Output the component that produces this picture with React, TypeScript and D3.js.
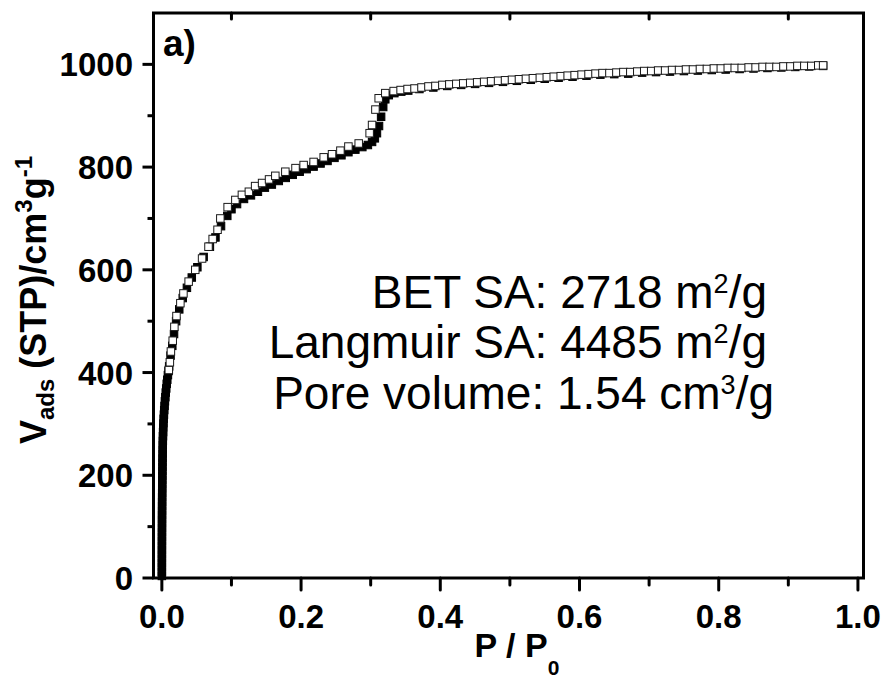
import React from 'react';
import * as d3 from 'd3';

// Adsorption branch (filled squares): relative pressure and volume
const adsP = [
  0.00001, 0.00002, 0.00003, 0.00004, 0.00005, 0.00007, 0.00008, 0.0001, 0.00012, 0.00014,
  0.00016, 0.00019, 0.00022, 0.00025, 0.00028, 0.00032, 0.00036, 0.0004, 0.00045, 0.0005,
  0.00055, 0.0006, 0.00066, 0.00072, 0.00078, 0.00085, 0.00092, 0.001, 0.0011, 0.0012,
  0.0013, 0.0014, 0.0016, 0.0018, 0.002, 0.0023, 0.0026, 0.003, 0.0034, 0.0039,
  0.0044, 0.005, 0.0056, 0.0063, 0.007, 0.0078, 0.0087, 0.0096,
  0.0105, 0.0125, 0.015, 0.0175, 0.0205, 0.025, 0.03, 0.036, 0.043, 0.051,
  0.06, 0.069, 0.077, 0.085, 0.094, 0.1, 0.108, 0.118, 0.128, 0.138,
  0.148, 0.158, 0.168, 0.178, 0.188, 0.198, 0.208, 0.218, 0.228, 0.238,
  0.248, 0.258, 0.268, 0.278, 0.288, 0.296, 0.302, 0.306, 0.309, 0.312,
  0.315, 0.318, 0.321, 0.326, 0.334, 0.344, 0.354,
  0.37, 0.39, 0.41, 0.43, 0.45, 0.47, 0.49, 0.51, 0.53, 0.55,
  0.57, 0.59, 0.61, 0.63, 0.65, 0.67, 0.69, 0.71, 0.73, 0.75,
  0.77, 0.79, 0.81, 0.83, 0.85, 0.87, 0.89, 0.91, 0.93, 0.95,
];
const adsV = [
  4, 12, 21, 29, 38, 46, 55, 63, 72, 80,
  89, 97, 106, 114, 123, 131, 140, 148, 157, 165,
  174, 182, 191, 199, 208, 216, 225, 233, 242, 250,
  259, 267, 276, 284, 293, 301, 310, 318, 327, 335,
  344, 352, 361, 369, 378, 386, 395, 403,
  412, 433, 452, 475, 500, 523, 545, 565, 585, 605,
  625, 645, 663, 685, 705, 718, 728, 738, 745, 752,
  760, 766, 773, 779, 785, 791, 796, 801, 807, 812,
  818, 823, 829, 834, 839, 843, 849, 856, 866, 880,
  898, 917, 932, 940, 944, 947, 949,
  952, 955, 958, 960, 962, 964, 966, 968, 970, 972,
  974, 976, 978, 980, 981, 982, 984, 985, 986, 987,
  988, 989, 990, 991, 992, 993, 994, 995, 996, 997,
];

// Desorption branch (open squares)
const desP = [
  0.01, 0.0115, 0.013, 0.0156, 0.018, 0.021, 0.0266, 0.031, 0.0385, 0.048,
  0.0578, 0.067, 0.073, 0.08, 0.084, 0.0945, 0.1056, 0.115, 0.125, 0.134,
  0.144, 0.154, 0.163, 0.1774, 0.192, 0.2037, 0.218, 0.2325, 0.2445, 0.2565,
  0.268, 0.2828, 0.2985, 0.302, 0.3068, 0.3115, 0.321, 0.333,
  0.343, 0.353, 0.363, 0.373, 0.383, 0.393, 0.403, 0.413, 0.423, 0.433,
  0.443, 0.453, 0.463, 0.473, 0.483, 0.493, 0.503, 0.513, 0.523, 0.533,
  0.543, 0.553, 0.563, 0.573, 0.583, 0.593, 0.603, 0.613, 0.623, 0.633,
  0.643, 0.653, 0.663, 0.673, 0.683, 0.693, 0.703, 0.713, 0.723, 0.733,
  0.743, 0.753, 0.763, 0.773, 0.783, 0.793, 0.803, 0.813, 0.823, 0.833,
  0.843, 0.853, 0.863, 0.873, 0.883, 0.893, 0.903, 0.913, 0.923, 0.933,
  0.943, 0.95,
];
const desV = [
  405, 420, 441, 462, 489, 510, 535, 554, 577, 600,
  622, 645, 660, 678, 700, 722, 736, 746, 752, 763,
  769, 776, 783, 791, 798, 804, 810, 819, 825, 832,
  840, 846, 866, 882, 912, 934, 944, 948,
  950, 952, 953, 955, 957, 958, 960, 961, 962, 963,
  964, 965, 966, 967, 968, 969, 970, 971, 972, 973,
  974, 975, 976, 977, 978, 979, 980, 981, 982, 983,
  983, 984, 985, 985, 986, 987, 987, 988, 988, 989,
  989, 990, 990, 991, 991, 992, 992, 993, 993, 993,
  994, 994, 995, 995, 995, 996, 996, 997, 997, 997,
  998, 998,
];

const yMajor = [0, 200, 400, 600, 800, 1000];
const yLabels = ['0', '200', '400', '600', '800', '1000'];
const yMinor = [100, 300, 500, 700, 900];
const xMajor = [0, 0.2, 0.4, 0.6, 0.8, 1.0];
const xLabels = ['0.0', '0.2', '0.4', '0.6', '0.8', '1.0'];
const xMinor = [0.1, 0.3, 0.5, 0.7, 0.9];
const topTicks = [0.1, 0.3, 0.5, 0.7, 0.9];

const noteMain = ['BET SA: 2718 m', 'Langmuir SA: 4485 m', 'Pore volume: 1.54 cm'];
const noteSup = ['2', '2', '3'];
const noteTail = ['/g', '/g', '/g'];
const noteRight = [767, 767, 774];
const noteBase = [308, 358, 409];

const W = 884;
const H = 681;
const FONT = "'Liberation Sans', Arial, Helvetica, sans-serif";

export default function App() {
  const x = d3.scaleLinear().domain([-0.012, 1.008]).range([153.5, 863.5]);
  const y = d3.scaleLinear().domain([0, 1100]).range([578, 13]);
  const s = 7.5;
  const ads = d3.zip(adsP, adsV);
  const des = d3.zip(desP, desV);
  const [x0, x1] = x.range();
  const [yb, yt] = y.range();

  return (
    <svg
      width={W}
      height={H}
      style={{ position: 'absolute', left: 0, top: 0, background: '#fff' }}
      fontFamily={FONT}
    >
      <rect x={0} y={0} width={W} height={H} fill="#fff" />
      {/* data */}
      <g>
        {ads.map(([p, v], i) => (
          <rect key={'a' + i} x={x(p) - s / 2} y={y(v) - s / 2} width={s} height={s}
            fill="#000" stroke="#000" strokeWidth={1} />
        ))}
        {des.map(([p, v], i) => (
          <rect key={'d' + i} x={x(p) - s / 2} y={y(v) - s / 2} width={s} height={s}
            fill="#fff" stroke="#1a1a1a" strokeWidth={1} />
        ))}
      </g>
      {/* frame */}
      <rect x={x0} y={yt} width={x1 - x0} height={yb - yt} fill="none" stroke="#000" strokeWidth={3} />
      {/* y ticks */}
      {yMajor.map((v, i) => (
        <g key={'ym' + i}>
          <line x1={x0 - 11} x2={x0} y1={y(v)} y2={y(v)} stroke="#000" strokeWidth={3} />
          <text x={133} y={y(v)} dy={12} textAnchor="end" fontSize={33} fontWeight="bold">{yLabels[i]}</text>
        </g>
      ))}
      {yMinor.map((v, i) => (
        <line key={'yn' + i} x1={x0 - 6} x2={x0} y1={y(v)} y2={y(v)} stroke="#000" strokeWidth={3} />
      ))}
      {/* x ticks */}
      {xMajor.map((p, i) => (
        <g key={'xm' + i}>
          <line x1={x(p)} x2={x(p)} y1={yb} y2={yb + 12} stroke="#000" strokeWidth={3} strokeLinecap="round" />
          <text x={x(p)} y={628} textAnchor="middle" fontSize={33} fontWeight="bold">{xLabels[i]}</text>
        </g>
      ))}
      {xMinor.map((p, i) => (
        <line key={'xn' + i} x1={x(p)} x2={x(p)} y1={yb} y2={yb + 7} stroke="#000" strokeWidth={3} strokeLinecap="round" />
      ))}
      {topTicks.map((p, i) => (
        <line key={'xt' + i} x1={x(p)} x2={x(p)} y1={yt} y2={yt + 6} stroke="#000" strokeWidth={3} strokeLinecap="round" />
      ))}
      {/* axis titles */}
      <text x={517} y={657} textAnchor="middle" fontSize={34} fontWeight="bold">
        P / P<tspan fontSize={21} dy={18}>0</tspan>
      </text>
      <text transform="translate(46,300) rotate(-90)" textAnchor="middle" fontSize={36} fontWeight="bold">
        V<tspan fontSize={24} dy={8}>ads</tspan>
        <tspan fontSize={36} dy={-8}> (STP)/cm</tspan>
        <tspan fontSize={24} dy={-14}>3</tspan>
        <tspan fontSize={36} dy={14}>g</tspan>
        <tspan fontSize={24} dy={-14}>-1</tspan>
      </text>
      {/* panel label */}
      <text x={163} y={56} fontSize={37} fontWeight="bold">a)</text>
      {/* annotations */}
      {noteMain.map((t, i) => (
        <text key={'n' + i} x={noteRight[i]} y={noteBase[i]} textAnchor="end" fontSize={46}>
          {t}
          <tspan fontSize={27} dy={-15}>{noteSup[i]}</tspan>
          <tspan fontSize={46} dy={15}>{noteTail[i]}</tspan>
        </text>
      ))}
    </svg>
  );
}
